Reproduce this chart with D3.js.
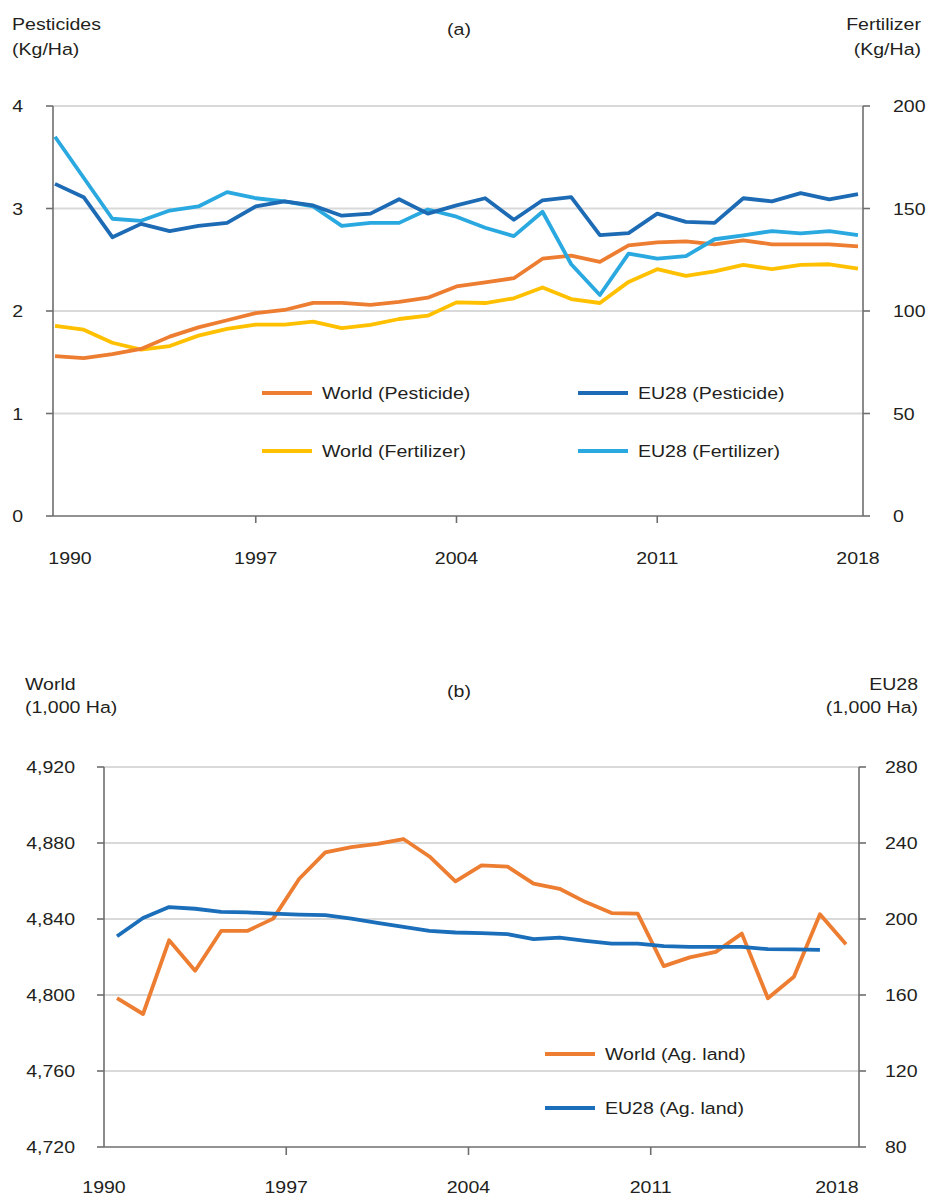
<!DOCTYPE html>
<html>
<head>
<meta charset="utf-8">
<script src="https://cdn.jsdelivr.net/npm/d3@7"></script>
<style>
  html, body { margin: 0; padding: 0; background: #fff; }
  svg { display: block; }
  text { font-family: "Liberation Sans", Arial, sans-serif; fill: #231f20; }
</style>
</head>
<body>
<svg id="chart" width="929" height="1198"></svg>
<script>
// ---------- DATA ----------
const years = [1990,1991,1992,1993,1994,1995,1996,1997,1998,1999,2000,2001,2002,2003,2004,2005,2006,2007,2008,2009,2010,2011,2012,2013,2014,2015,2016,2017,2018];
const yearTicks = [1990, 1997, 2004, 2011, 2018];

// Panel (a): pesticides (kg/ha, left axis) and fertilizer (kg/ha, right axis)
const worldPesticide = [1.56,1.54,1.58,1.63,1.75,1.84,1.91,1.98,2.01,2.08,2.08,2.06,2.09,2.13,2.24,2.28,2.32,2.51,2.54,2.48,2.64,2.67,2.68,2.65,2.69,2.65,2.65,2.65,2.63];
const eu28Pesticide  = [3.24,3.11,2.72,2.85,2.78,2.83,2.86,3.02,3.07,3.03,2.93,2.95,3.09,2.95,3.03,3.10,2.89,3.08,3.11,2.74,2.76,2.95,2.87,2.86,3.10,3.07,3.15,3.09,3.14];
const worldFertilizer = [92.8,90.9,84.5,81.2,82.9,88.0,91.3,93.4,93.4,94.8,91.6,93.2,96.1,97.7,104.2,103.9,106.2,111.5,105.8,103.9,114.2,120.4,117.1,119.3,122.5,120.4,122.5,122.8,120.7];
const eu28Fertilizer  = [185,165,145,144,149,151,158,155,153.5,151,141.5,143,143,149.5,146,140.6,136.5,148.4,122.8,107.8,128,125.6,126.8,135,136.9,139,137.9,139,137];
const pestTicks = [0,1,2,3,4];
const fertTicks = [0,50,100,150,200];

// Panel (b): agricultural land (1,000 ha)
const worldAgLand = [4798.3,4790,4828.8,4812.8,4833.7,4833.7,4840.2,4861.2,4875.1,4877.8,4879.5,4882.1,4872.9,4859.8,4868.2,4867.6,4858.6,4855.9,4848.9,4843.1,4842.8,4815.2,4819.8,4822.7,4832.3,4798.3,4809.6,4842.5,4826.7];
const eu28AgLand  = [190.9,200.5,206.3,205.4,203.7,203.5,202.8,202.3,202.0,200.2,197.9,195.8,193.7,192.9,192.6,192.0,189.4,190.2,188.5,187.0,187.0,185.7,185.3,185.3,185.3,184.1,184.0,183.8,null];
const worldTicks = [4720,4760,4800,4840,4880,4920];
const euTicks = [80,120,160,200,240,280];

// ---------- STYLE ----------
const C = {
  orange: "#ED7D31", darkBlue: "#1C6BB4", yellow: "#FFC000", lightBlue: "#2AA8E0",
  blue: "#1A6EBA", grid: "#d9d9d9", axis: "#6e6e6e"
};
const FS = 17, SX = 1.15, LW = 3.8;

const svg = d3.select("#chart");
svg.append("rect").attr("width", 929).attr("height", 1198).attr("fill", "#fff");

function label(g, x, y, txt, anchor) {
  return g.append("text")
    .attr("transform", `translate(${x},${y}) scale(${SX},1)`)
    .attr("text-anchor", anchor || "start")
    .attr("font-size", FS)
    .text(txt);
}

function hline(g, x1, x2, y, color, w) {
  g.append("line").attr("x1", x1).attr("x2", x2).attr("y1", y).attr("y2", y)
    .attr("stroke", color).attr("stroke-width", w);
}
function vline(g, x, y1, y2, color, w) {
  g.append("line").attr("x1", x).attr("x2", x).attr("y1", y1).attr("y2", y2)
    .attr("stroke", color).attr("stroke-width", w);
}

function drawSeries(g, xf, yf, vals, color) {
  const line = d3.line()
    .defined(d => d.v !== null)
    .x(d => xf(d.y)).y(d => yf(d.v));
  g.append("path")
    .datum(years.map((y, i) => ({ y: y, v: vals[i] })))
    .attr("fill", "none").attr("stroke", color).attr("stroke-width", LW)
    .attr("stroke-linejoin", "round").attr("stroke-linecap", "butt")
    .attr("d", line);
}

function legendItem(g, x, y, color, txt) {
  hline(g, x, x + 50, y, color, LW);
  label(g, x + 60, y + 6, txt, "start");
}

// ---------- PANEL (a) ----------
{
  const g = svg.append("g");
  const L = 53, R = 863, T = 106, B = 516;
  const x = d3.scaleLinear().domain([1990, 2018]).range([55, 858]);
  const yL = d3.scaleLinear().domain([0, 4]).range([B, T]);
  const yR = d3.scaleLinear().domain([0, 200]).range([B, T]);

  pestTicks.filter(v => v > 0).forEach(v => hline(g, L, R, yL(v), C.grid, 2));

  vline(g, L, T, B, C.axis, 1.6);
  vline(g, R, T, B, C.axis, 1.6);
  hline(g, L, R, B, C.axis, 1.6);
  pestTicks.forEach(v => {
    hline(g, L - 7, L, yL(v), C.axis, 1.6);
    label(g, 23, yL(v) + 6, String(v), "end");
  });
  fertTicks.forEach(v => {
    hline(g, R, R + 7, yR(v), C.axis, 1.6);
    label(g, 893, yR(v) + 6, String(v), "start");
  });
  yearTicks.forEach((yr, i) => {
    if (i > 0 && i < yearTicks.length - 1) vline(g, x(yr), B, B + 7, C.axis, 1.6);
    label(g, x(yr) + (i === 0 ? 15 : 0), 564, String(yr), "middle");
  });

  drawSeries(g, x, yR, worldFertilizer, C.yellow);
  drawSeries(g, x, yL, worldPesticide, C.orange);
  drawSeries(g, x, yR, eu28Fertilizer, C.lightBlue);
  drawSeries(g, x, yL, eu28Pesticide, C.darkBlue);

  legendItem(g, 262, 393, C.orange, "World (Pesticide)");
  legendItem(g, 578, 393, C.darkBlue, "EU28 (Pesticide)");
  legendItem(g, 262, 451, C.yellow, "World (Fertilizer)");
  legendItem(g, 578, 451, C.lightBlue, "EU28 (Fertilizer)");

  label(g, 12, 30, "Pesticides", "start");
  label(g, 12, 55, "(Kg/Ha)", "start");
  label(g, 459, 35, "(a)", "middle");
  label(g, 921, 30, "Fertilizer", "end");
  label(g, 921, 55, "(Kg/Ha)", "end");
}

// ---------- PANEL (b) ----------
{
  const g = svg.append("g");
  const L = 104, R = 859, T = 767, B = 1147;
  const xb = d3.scaleBand().domain(years).range([L, R]).paddingInner(0).paddingOuter(0);
  const xc = yr => xb(yr) + xb.bandwidth() / 2;
  const yL = d3.scaleLinear().domain([4720, 4920]).range([B, T]);
  const yR = d3.scaleLinear().domain([80, 280]).range([B, T]);
  const fmt = d3.format(",");

  worldTicks.filter(v => v > 4720).forEach(v => hline(g, L, R, yL(v), C.grid, 2));

  vline(g, L, T, B, C.axis, 1.6);
  vline(g, R, T, B, C.axis, 1.6);
  hline(g, L, R, B, C.axis, 1.6);
  worldTicks.forEach(v => {
    hline(g, L - 7, L, yL(v), C.axis, 1.6);
    label(g, 75, yL(v) + 6, fmt(v), "end");
  });
  euTicks.forEach(v => {
    hline(g, R, R + 7, yR(v), C.axis, 1.6);
    label(g, 885, yR(v) + 6, String(v), "start");
  });
  yearTicks.forEach((yr, i) => {
    if (i > 0 && i < yearTicks.length - 1) vline(g, xb(yr), B, B + 8, C.axis, 1.6);
    label(g, xb(yr) + (i === yearTicks.length - 1 ? 4 : 0), 1193, String(yr), "middle");
  });

  drawSeries(g, xc, yL, worldAgLand, C.orange);
  drawSeries(g, xc, yR, eu28AgLand, C.blue);

  legendItem(g, 545, 1054, C.orange, "World (Ag. land)");
  legendItem(g, 545, 1108, C.blue, "EU28 (Ag. land)");

  label(g, 25, 690, "World", "start");
  label(g, 25, 713, "(1,000 Ha)", "start");
  label(g, 459, 697, "(b)", "middle");
  label(g, 918, 690, "EU28", "end");
  label(g, 918, 713, "(1,000 Ha)", "end");
}
</script>
</body>
</html>
